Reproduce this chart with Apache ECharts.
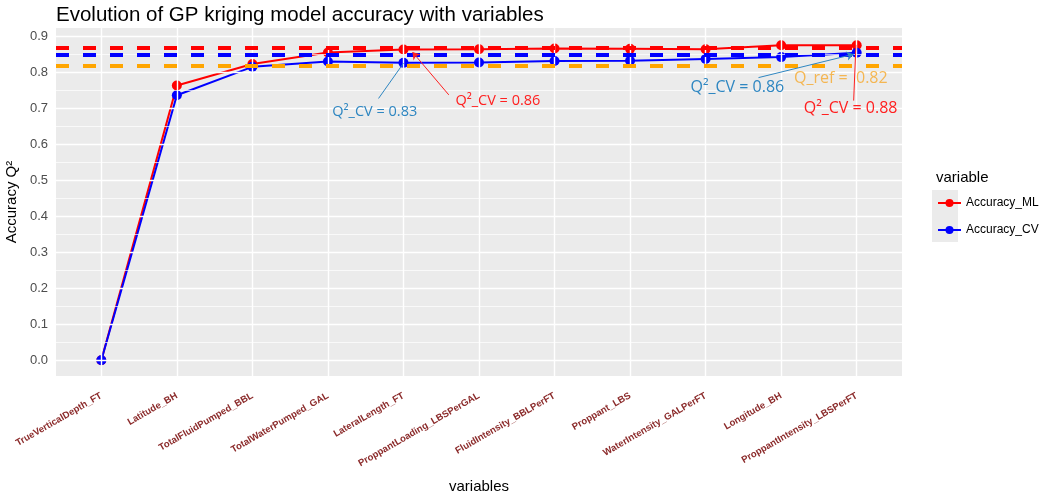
<!DOCTYPE html>
<html><head><meta charset="utf-8">
<script src="https://cdn.jsdelivr.net/npm/echarts@6/dist/echarts.min.js"></script>
<style>html,body{margin:0;padding:0;background:#fff}#c{width:1051px;height:499px}</style>
</head><body><div id="c"></div><script>
const categories = ['TrueVerticalDepth_FT','Latitude_BH','TotalFluidPumped_BBL','TotalWaterPumped_GAL','LateralLength_FT','ProppantLoading_LBSPerGAL','FluidIntensity_BBLPerFT','Proppant_LBS','WaterIntensity_GALPerFT','Longitude_BH','ProppantIntensity_LBSPerFT'];
const accuracyML = [0.0, 0.764, 0.824, 0.856, 0.864, 0.865, 0.867, 0.866, 0.865, 0.876, 0.876];
const accuracyCV = [0.0, 0.737, 0.816, 0.831, 0.827, 0.828, 0.832, 0.833, 0.838, 0.843, 0.855];
const yTicks = [0, 0.1, 0.2, 0.3, 0.4, 0.5, 0.6, 0.7, 0.8, 0.9];
const yMinor = [0.05, 0.15, 0.25, 0.35, 0.45, 0.55, 0.65, 0.75, 0.85];
const xTicks = [0, 1, 2, 3, 4, 5, 6, 7, 8, 9, 10];
const refML = 0.874, refCV = 0.855, refQ = 0.82;

const chart = echarts.init(document.getElementById('c'));
const font = 'Liberation Sans, Arial, sans-serif';
const annFont = 'Open Sans, Noto Sans, sans-serif';

chart.setOption({
  animation: false,
  textStyle: {fontFamily: font},
  title: [
    {text: 'Evolution of GP kriging model accuracy with variables', left: 51, top: 0,
     textStyle: {fontSize: 20.5, fontWeight: 'normal', color: '#000', fontFamily: font}},
    {text: 'variable', left: 931, top: 165,
     textStyle: {fontSize: 15, fontWeight: 'normal', color: '#000', fontFamily: font}}
  ],
  legend: {
    data: ['Accuracy_ML', 'Accuracy_CV'], orient: 'vertical', left: 932, top: 192,
    itemWidth: 23, itemHeight: 10, itemGap: 15,
    textStyle: {fontSize: 12, color: '#000', fontFamily: font}
  },
  graphic: [
    {type: 'rect', left: 932, top: 190, shape: {width: 26, height: 26}, style: {fill: '#EBEBEB'}, z: -1},
    {type: 'rect', left: 932, top: 216, shape: {width: 26, height: 26}, style: {fill: '#EBEBEB'}, z: -1}
  ],
  grid: {left: 56, right: 149, top: 28, bottom: 123, show: true, backgroundColor: '#EBEBEB', borderWidth: 0,
    containLabel: false, outerBoundsMode: 'none'},
  xAxis: {
    type: 'value', min: -0.6, max: 10.6,
    name: 'variables', nameLocation: 'middle', nameGap: 103,
    nameTextStyle: {fontSize: 15, color: '#000', fontFamily: font},
    axisLine: {show: false}, splitLine: {show: false},
    axisTick: {show: true, customValues: xTicks, length: 4, lineStyle: {color: '#333'}},
    axisLabel: {customValues: xTicks, rotate: 30, margin: 19, fontSize: 9.5, fontWeight: 'bold', color: '#8B2A2A',
      fontFamily: font, formatter: v => categories[Math.round(v)]}
  },
  yAxis: {
    type: 'value', min: -0.044, max: 0.924,
    name: 'Accuracy Q²', nameLocation: 'middle', nameGap: 22,
    nameTextStyle: {fontSize: 15, color: '#000', fontFamily: font},
    axisLine: {show: false}, splitLine: {show: false},
    axisTick: {show: true, customValues: yTicks, length: 4, lineStyle: {color: '#333'}},
    axisLabel: {customValues: yTicks, margin: 8, fontSize: 13, color: '#4D4D4D', fontFamily: font,
      formatter: v => v.toFixed(1)}
  },
  series: [
    {type: 'line', name: 'grid', data: [], z: 1, silent: true,
     markLine: {silent: true, symbol: ['none', 'none'], label: {show: false},
       data: [
         ...yMinor.map(v => ({yAxis: v, lineStyle: {color: '#fff', width: 0.7, type: 'solid'}})),
         ...yTicks.map(v => ({yAxis: v, lineStyle: {color: '#fff', width: 1.4, type: 'solid'}})),
         ...xTicks.map(v => ({xAxis: v, lineStyle: {color: '#fff', width: 1.4, type: 'solid'}}))
       ]}},
    {type: 'line', name: 'Accuracy_ML', data: accuracyML.map((v, i) => [i, v]), z: 2,
     symbol: 'circle', symbolSize: 10, color: '#FF0000', lineStyle: {width: 2, color: '#FF0000'},
     itemStyle: {color: '#FF0000', borderWidth: 0}},
    {type: 'line', name: 'Accuracy_CV', data: accuracyCV.map((v, i) => [i, v]), z: 3,
     symbol: 'circle', symbolSize: 10, color: '#0000FF', lineStyle: {width: 2, color: '#0000FF'},
     itemStyle: {color: '#0000FF', borderWidth: 0}},
    {type: 'line', name: 'refs', data: [], z: 4, silent: true,
     markLine: {silent: true, symbol: ['none', 'none'], label: {show: false},
       data: [
         {yAxis: refQ, lineStyle: {color: '#FFA500', width: 4, type: [13, 14]}},
         {yAxis: refCV, lineStyle: {color: '#0000FF', width: 4, type: [13, 14]}},
         {yAxis: refML, lineStyle: {color: '#FF0000', width: 4, type: [13, 14]}}
       ]}},
    {type: 'line', name: 'annotations', data: [], z: 5, silent: true,
     markLine: {silent: true, label: {show: false}, symbol: ['none', 'arrow'], symbolSize: 7,
       data: [
         [{coord: [3.67, 0.728], symbol: 'none', lineStyle: {color: '#2E86C1', width: 1, type: 'solid'}}, {coord: [4.0, 0.826], symbol: 'none'}],
         [{coord: [4.6, 0.738], lineStyle: {color: '#FF2020', width: 1, type: 'solid'}}, {coord: [4.12, 0.857]}],
         [{coord: [8.70, 0.786], lineStyle: {color: '#2E86C1', width: 1, type: 'solid'}}, {coord: [9.96, 0.851]}],
         [{coord: [9.96, 0.722], symbol: 'none', lineStyle: {color: '#FF2020', width: 1, type: 'solid'}}, {coord: [9.99, 0.877], symbol: 'none'}]
       ]},
     markPoint: {silent: true, symbol: 'circle', symbolSize: 0,
       data: [
         {coord: [3.62, 0.692], label: {show: true, position: 'inside', formatter: 'Q²_CV = 0.83', color: '#2E86C1', fontSize: 14.5, fontFamily: annFont}},
         {coord: [5.25, 0.722], label: {show: true, position: 'inside', formatter: 'Q²_CV = 0.86', color: '#FF2020', fontSize: 14.5, fontFamily: annFont}},
         {coord: [8.42, 0.758], label: {show: true, position: 'inside', formatter: 'Q²_CV = 0.86', color: '#2E86C1', fontSize: 16, fontFamily: annFont}},
         {coord: [9.79, 0.783], label: {show: true, position: 'inside', formatter: 'Q_ref =  0.82', color: 'rgba(245,176,65,0.9)', fontSize: 16, fontFamily: annFont}},
         {coord: [9.92, 0.70], label: {show: true, position: 'inside', formatter: 'Q²_CV = 0.88', color: '#FF2020', fontSize: 16, fontFamily: annFont}}
       ]}}
  ]
});
</script></body></html>
